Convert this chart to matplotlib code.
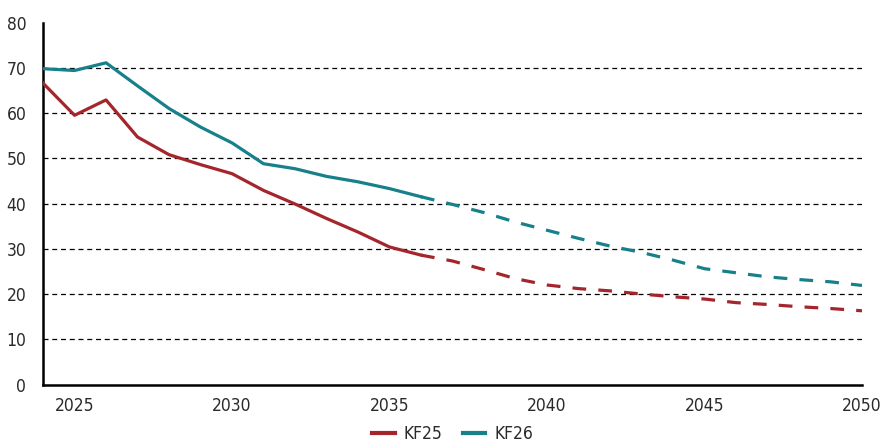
import matplotlib.pyplot as plt

# yearly values, solid = historic/plan, dashed = projection
years_solid = list(range(2024, 2037))
kf25_solid = [66.6, 59.5, 62.9, 54.7, 50.8, 48.6, 46.6, 42.9, 39.9, 36.7, 33.7, 30.4, 28.6]
kf26_solid = [69.8, 69.4, 71.1, 66.0, 61.0, 56.9, 53.4, 48.8, 47.7, 46.0, 44.8, 43.3, 41.5]

years_proj = list(range(2036, 2051))
kf25_proj = [28.6, 27.3, 25.4, 23.4, 22.0, 21.2, 20.7, 20.0, 19.4, 18.9, 18.1, 17.7, 17.2, 16.8, 16.3]
kf26_proj = [41.5, 39.8, 38.0, 35.9, 34.1, 32.3, 30.6, 29.2, 27.5, 25.6, 24.7, 23.8, 23.2, 22.7, 21.9]

xticks = [2025, 2030, 2035, 2040, 2045, 2050]
yticks = [0, 10, 20, 30, 40, 50, 60, 70, 80]

red = '#a5252c'
teal = '#17808b'

plt.rcParams['font.family'] = ['DejaVu Sans']
plt.rcParams['font.stretch'] = 'condensed'

fig = plt.figure(figsize=(8.82, 4.42), dpi=100)
ax = fig.add_axes([0.0488, 0.130, 0.9285, 0.819])

for y in yticks[1:-1]:
    ax.axhline(y, color='black', lw=0.9, ls=(0, (4, 3)), zorder=1)

ax.plot(years_solid, kf25_solid, color=red, lw=2.3, label='KF25', zorder=3)
ax.plot(years_solid, kf26_solid, color=teal, lw=2.3, label='KF26', zorder=3)
ax.plot(years_proj, kf25_proj, color=red, lw=2.3, ls=(0, (4.3, 3.8)), zorder=3)
ax.plot(years_proj, kf26_proj, color=teal, lw=2.3, ls=(0, (4.3, 3.8)), zorder=3)

ax.set_xlim(2024, 2050)
ax.set_ylim(0, 80)
ax.set_xticks(xticks)
ax.set_yticks(yticks)
ax.tick_params(length=0, labelsize=12.5, labelcolor='#2a2a2a')
ax.tick_params(axis='y', pad=12)
ax.tick_params(axis='x', pad=9)

for s in ['top', 'right']:
    ax.spines[s].set_visible(False)
for s in ['left', 'bottom']:
    ax.spines[s].set_linewidth(1.8)
    ax.spines[s].set_color('black')

leg = ax.legend(loc='upper center', bbox_to_anchor=(0.5, -0.093), ncol=2, frameon=False,
                fontsize=12.5, handlelength=1.3, columnspacing=1.2, handletextpad=0.5,
                labelcolor='#2a2a2a', borderaxespad=0)
for h in leg.get_lines():
    h.set_linewidth(3)

fig.savefig('out.png', dpi=100)
